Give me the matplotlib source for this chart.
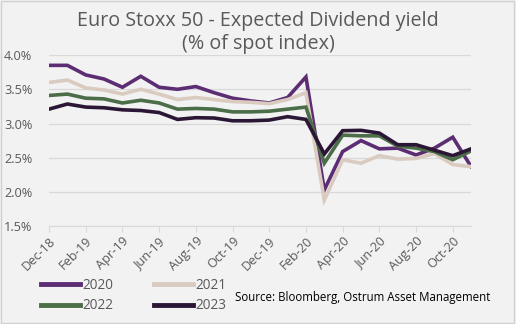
import matplotlib
matplotlib.use("Agg")
import matplotlib.pyplot as plt
from matplotlib.patches import Rectangle
from matplotlib.lines import Line2D

months = ["Dec-18", "Jan-19", "Feb-19", "Mar-19", "Apr-19", "May-19", "Jun-19", "Jul-19",
          "Aug-19", "Sep-19", "Oct-19", "Nov-19", "Dec-19", "Jan-20", "Feb-20", "Mar-20",
          "Apr-20", "May-20", "Jun-20", "Jul-20", "Aug-20", "Sep-20", "Oct-20", "Nov-20"]

y2020 = [3.85, 3.85, 3.71, 3.65, 3.53, 3.69, 3.53, 3.50, 3.54, 3.45, 3.37, 3.33,
         3.30, 3.38, 3.68, 2.03, 2.59, 2.75, 2.63, 2.64, 2.54, 2.64, 2.80, 2.37]
y2021 = [3.60, 3.635, 3.52, 3.49, 3.43, 3.50, 3.43, 3.35, 3.38, 3.35, 3.32, 3.31,
         3.29, 3.35, 3.45, 1.88, 2.47, 2.42, 2.53, 2.48, 2.49, 2.56, 2.40, 2.37]
y2022 = [3.41, 3.43, 3.37, 3.36, 3.30, 3.34, 3.30, 3.21, 3.22, 3.21, 3.17, 3.17,
         3.18, 3.21, 3.24, 2.42, 2.83, 2.82, 2.82, 2.67, 2.64, 2.59, 2.47, 2.60]
y2023 = [3.21, 3.285, 3.24, 3.23, 3.20, 3.19, 3.16, 3.06, 3.085, 3.08, 3.04, 3.04,
         3.05, 3.10, 3.06, 2.555, 2.895, 2.90, 2.86, 2.69, 2.69, 2.61, 2.53, 2.63]

series = [("2020", y2020, "#5c2d73"),
          ("2021", y2021, "#dacbc1"),
          ("2022", y2022, "#4b6d47"),
          ("2023", y2023, "#2b1735")]

yticks = [1.5, 2.0, 2.5, 3.0, 3.5, 4.0]
ytick_labels = ["1.5%", "2.0%", "2.5%", "3.0%", "3.5%", "4.0%"]

plt.rcParams["font.family"] = ["Open Sans", "DejaVu Sans"]

bg = "#f2f2f2"
fig = plt.figure(figsize=(5.16, 3.24), dpi=100, facecolor=bg)
fig.patches.append(Rectangle((0.002, 0.003), 0.994, 0.993, transform=fig.transFigure,
                             fill=False, edgecolor="#d0d0d0", linewidth=1.0))

ax = fig.add_axes([0.095, 0.302, 0.818, 0.528])
ax.set_facecolor(bg)

x = list(range(len(months)))
for name, vals, col in series:
    ax.plot(x, vals, color=col, linewidth=2.6, solid_joinstyle="miter", label=name)

ax.set_xlim(0, len(months) - 1)
ax.set_ylim(1.5, 4.0)
ax.set_yticks(yticks)
ax.set_yticklabels(ytick_labels, fontsize=9.2, color="#595959")
ax.yaxis.grid(True, color="#d9d9d9", linewidth=0.9)
ax.set_axisbelow(True)
ax.tick_params(axis="y", length=0, pad=12)

xt = x[::2]
ax.set_xticks(xt)
ax.set_xticklabels(months[::2], rotation=45, ha="right", rotation_mode="anchor",
                   fontsize=9.2, color="#595959")
ax.tick_params(axis="x", length=4, color="#d9d9d9", pad=2)

for side in ["top", "right", "left"]:
    ax.spines[side].set_visible(False)
ax.spines["bottom"].set_color("#d9d9d9")

fig.text(0.5, 0.965, "Euro Stoxx 50 - Expected Dividend yield\n(% of spot index)",
         ha="center", va="top", fontsize=14.2, color="#595959", linespacing=1.15)

# legend fills column-first: order so rows read 2020/2021 then 2022/2023
order = [0, 2, 1, 3]
handles = [Line2D([0], [0], color=series[i][2], linewidth=3.5) for i in order]
labels = [series[i][0] for i in order]
leg = fig.legend(handles, labels, ncol=2, loc="lower left",
                 bbox_to_anchor=(0.055, -0.005), frameon=False, fontsize=9.8,
                 handlelength=2.9, handletextpad=0.15, columnspacing=3.0,
                 labelspacing=0.4)
for t in leg.get_texts():
    t.set_color("#595959")

fig.text(0.455, 0.083, "Source: Bloomberg, Ostrum Asset Management",
         ha="left", va="center", fontsize=8.3, color="#000000")

fig.savefig("out.png", dpi=100, facecolor=bg)
